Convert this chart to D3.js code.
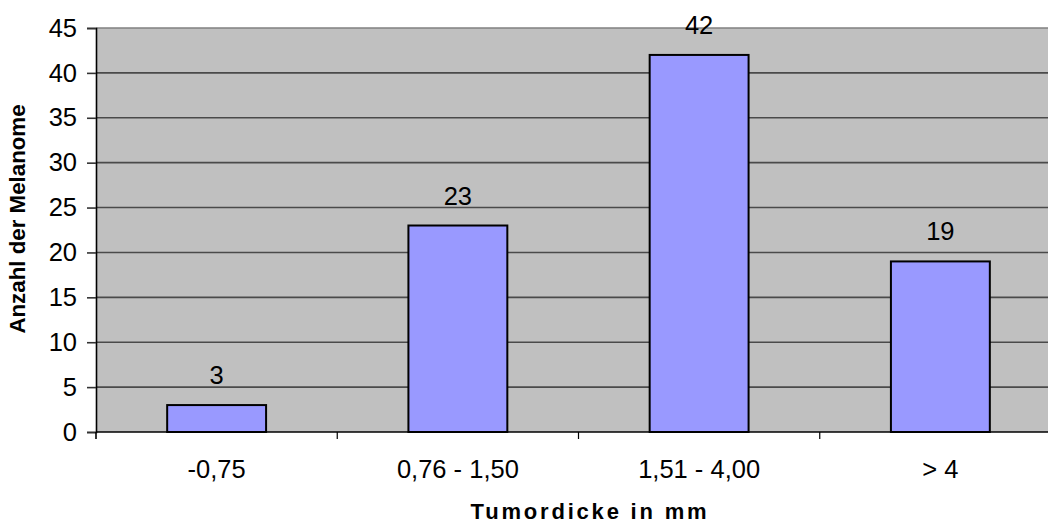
<!DOCTYPE html>
<html>
<head>
<meta charset="utf-8">
<script src="https://cdn.jsdelivr.net/npm/d3@7/dist/d3.min.js"></script>
<style>
  html, body { margin: 0; padding: 0; background: #ffffff; }
  svg { display: block; font-family: "Liberation Sans", Arial, sans-serif; }
</style>
</head>
<body>
<svg id="chart" width="1048" height="525"></svg>
<script>
// Tumour thickness classes and number of melanomas per class
const categories = ["-0,75", "0,76 - 1,50", "1,51 - 4,00", "> 4"];
const counts = [3, 23, 42, 19];
const yTicks = [0, 5, 10, 15, 20, 25, 30, 35, 40, 45];
const xTitle = "Tumordicke in mm";
const yTitle = "Anzahl der Melanome";

const svg = d3.select("#chart");
const plot = { left: 96, right: 1061, top: 28, bottom: 432 };
const labelSize = 25.5;

const x = d3.scaleBand()
  .domain(categories)
  .range([plot.left, plot.right])
  .paddingInner(0.59)
  .paddingOuter(0.295);

const xOuter = d3.scaleBand()
  .domain(categories)
  .range([plot.left, plot.right])
  .padding(0);

const y = d3.scaleLinear()
  .domain([0, 45])
  .range([plot.bottom, plot.top]);

// plot background
svg.append("rect")
  .attr("x", plot.left)
  .attr("y", plot.top)
  .attr("width", plot.right - plot.left)
  .attr("height", plot.bottom - plot.top)
  .attr("fill", "#c0c0c0");

// horizontal gridlines
svg.append("g")
  .selectAll("line")
  .data(yTicks.filter(d => d > 0))
  .join("line")
  .attr("x1", plot.left)
  .attr("x2", plot.right)
  .attr("y1", d => y(d))
  .attr("y2", d => y(d))
  .attr("stroke", d => d === 45 ? "#808080" : "#4a4a4a")
  .attr("stroke-width", 1.6);

// bars
svg.append("g")
  .selectAll("rect")
  .data(counts)
  .join("rect")
  .attr("x", (d, i) => x(categories[i]))
  .attr("y", d => y(d))
  .attr("width", x.bandwidth())
  .attr("height", d => y(0) - y(d))
  .attr("fill", "#9999ff")
  .attr("stroke", "#000")
  .attr("stroke-width", 2);

// value labels above bars
svg.append("g")
  .selectAll("text")
  .data(counts)
  .join("text")
  .attr("x", (d, i) => x(categories[i]) + x.bandwidth() / 2)
  .attr("y", d => y(d) - 21)
  .attr("text-anchor", "middle")
  .attr("font-size", labelSize)
  .attr("fill", "#000")
  .text(d => d);

// y axis
const yAxis = d3.axisLeft(y)
  .tickValues(yTicks)
  .tickSize(9)
  .tickPadding(10)
  .tickFormat(d3.format("d"));

const gy = svg.append("g")
  .attr("transform", `translate(${plot.left},0)`)
  .call(yAxis);
gy.select(".domain").attr("stroke", "#000").attr("stroke-width", 1.6);
gy.selectAll(".tick line").attr("stroke", "#333").attr("stroke-width", 1.6);
gy.selectAll(".tick text")
  .attr("font-size", labelSize)
  .attr("font-family", "'Liberation Sans', Arial, sans-serif")
  .attr("fill", "#000");

// x axis: ticks sit on the category boundaries
const gx = svg.append("g")
  .attr("transform", `translate(0,${plot.bottom})`);
gx.append("line")
  .attr("x1", plot.left)
  .attr("x2", plot.right)
  .attr("stroke", "#000")
  .attr("stroke-width", 1.6);
gx.selectAll("line.tick")
  .data(categories.slice(1))
  .join("line")
  .attr("class", "tick")
  .attr("x1", d => xOuter(d))
  .attr("x2", d => xOuter(d))
  .attr("y1", 0)
  .attr("y2", 7)
  .attr("stroke", "#000")
  .attr("stroke-width", 1.2);
gx.append("line")
  .attr("x1", plot.left)
  .attr("x2", plot.left)
  .attr("y1", 0)
  .attr("y2", 7)
  .attr("stroke", "#000")
  .attr("stroke-width", 1.6);
gx.selectAll("text")
  .data(categories)
  .join("text")
  .attr("x", d => xOuter(d) + xOuter.bandwidth() / 2)
  .attr("y", 46)
  .attr("text-anchor", "middle")
  .attr("font-size", labelSize)
  .attr("fill", "#000")
  .text(d => d);

// axis titles
svg.append("text")
  .attr("x", 590)
  .attr("y", 519)
  .attr("text-anchor", "middle")
  .attr("font-size", 22)
  .attr("font-weight", "bold")
  .attr("letter-spacing", "2.8px")
  .text(xTitle);

svg.append("text")
  .attr("transform", "translate(25,219) rotate(-90)")
  .attr("text-anchor", "middle")
  .attr("font-size", 22.3)
  .attr("font-weight", "bold")
  .text(yTitle);
</script>
</body>
</html>
